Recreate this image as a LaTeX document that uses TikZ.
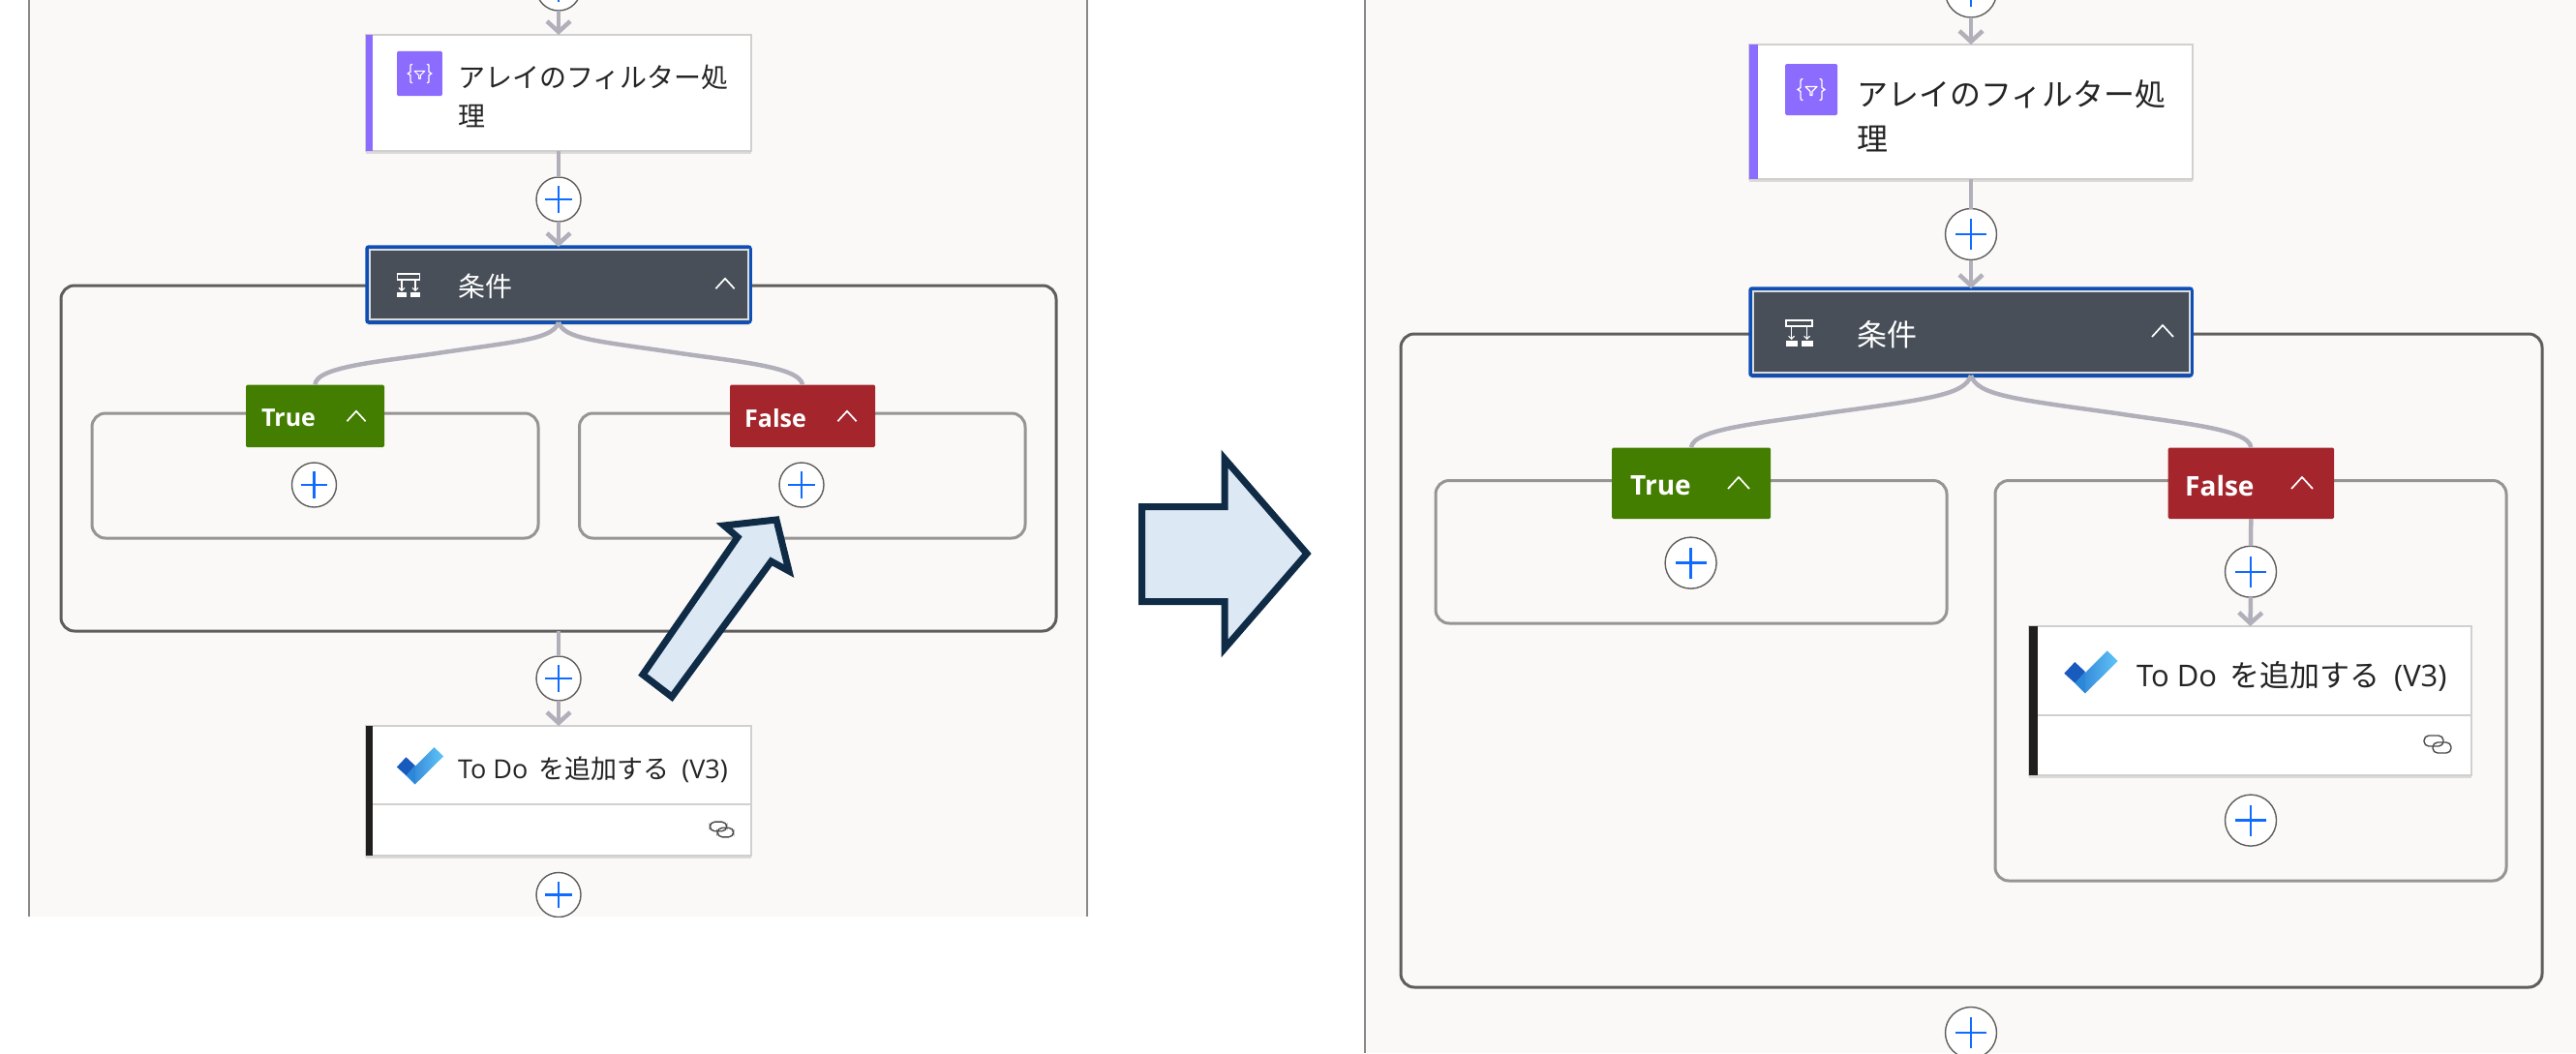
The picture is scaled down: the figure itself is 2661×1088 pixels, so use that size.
\documentclass[tikz,border=0pt]{standalone}
\usepackage{fontspec}
\usetikzlibrary{arrows.meta,shadows,calc}
\newfontfamily\jpfont{Noto Sans CJK JP}
\newfontfamily\labfont{Open Sans}
\definecolor{panelbg}{HTML}{FAF9F8}
\definecolor{panelline}{HTML}{8A8886}
\definecolor{flowgrey}{HTML}{B1B0BA}
\definecolor{outerbox}{HTML}{605E5C}
\definecolor{innerbox}{HTML}{979593}
\definecolor{plusblue}{HTML}{0F6CFF}
\definecolor{filterpurple}{HTML}{8C6CFF}
\definecolor{condfill}{HTML}{484F58}
\definecolor{condblue}{HTML}{0F4FB5}
\definecolor{truegreen}{HTML}{437E00}
\definecolor{falsered}{HTML}{A4262C}
\definecolor{cardedge}{HTML}{D2D0CE}
\definecolor{arrownavy}{HTML}{0F2B46}
\definecolor{arrowfill}{HTML}{DCE9F5}
\definecolor{todobar}{HTML}{201F1E}
\definecolor{inktext}{HTML}{242424}
\definecolor{todolow}{HTML}{2B7CD3}
\definecolor{todohigh}{HTML}{60C5F7}
\definecolor{todomid}{HTML}{2B88D8}
\definecolor{tododark}{HTML}{185ABD}
\tikzset{
  x=1pt,y=-1pt,
  flow/.style={draw=flowgrey,line width=4.5pt},
  tip/.style={-{Straight Barb[length=11pt,width=24pt,line width=4.5pt]}},
  addnode/.style={circle,draw=outerbox,fill=white,line width=1.4pt,inner sep=0,outer sep=0,minimum size=#1,
    path picture={\draw[plusblue,line width=2.4pt] ($(path picture bounding box.center)+(-.3*#1,0)$)--($(path picture bounding box.center)+(.3*#1,0)$);
      \draw[plusblue,line width=2.4pt] ($(path picture bounding box.center)+(0,-.3*#1)$)--($(path picture bounding box.center)+(0,.3*#1)$);}},
  cardbox/.style={rectangle,draw=cardedge,line width=1.2pt,fill=white,anchor=north west,inner sep=0,outer sep=0,
    drop shadow={shadow xshift=0pt,shadow yshift=-3pt,opacity=.25}},
  condbox/.style={rectangle,rounded corners=2pt,draw=condblue,line width=3.5pt,fill=condfill,anchor=north west,inner sep=0,outer sep=0,
    drop shadow={shadow xshift=0pt,shadow yshift=-3pt,opacity=.25}},
  branchbox/.style={rectangle,rounded corners=1.5pt,anchor=north west,inner sep=0,outer sep=0,text=white},
  groupbox/.style={draw=outerbox,line width=3pt,rounded corners=14pt},
  subbox/.style={draw=innerbox,line width=3pt,rounded corners=14pt},
  cardtext/.style={anchor=west,inner sep=0,outer sep=0,text=inktext,align=left},
  bigarrow/.style={draw=arrownavy,fill=arrowfill,line width=7pt,miter limit=10},
  pics/filtericon/.style={code={
    \fill[filterpurple,rounded corners=1.5pt] (-27,-26.5) rectangle (27,26.5);
    \draw[white,line width=1.3pt,line cap=round] (-9,-11) .. controls (-11,-11) and (-11,-10) .. (-11,-8) -- (-11,-2) -- (-14,0) -- (-11,2) -- (-11,8) .. controls (-11,10) and (-11,11) .. (-9,11);
    \draw[white,line width=1.3pt,line cap=round] (9,-11) .. controls (11,-11) and (11,-10) .. (11,-8) -- (11,-2) -- (14,0) -- (11,2) -- (11,8) .. controls (11,10) and (11,11) .. (9,11);
    \draw[white,line width=1.2pt,line join=round] (-6,-3) -- (6,-3) -- (1,2) -- (1,6) -- (-1,6) -- (-1,2) -- cycle;
  }},
  pics/condicon/.style={code={
    \draw[white,line width=1.2pt] (-13.5,-13) rectangle (13.5,-7);
    \draw[white,line width=2pt] (-13.5,-13.5) -- (13.5,-13.5);
    \draw[white,line width=1.1pt,-{Straight Barb[length=3pt,width=6pt]}] (-8,-7) -- (-8,7);
    \draw[white,line width=1.1pt,-{Straight Barb[length=3pt,width=6pt]}] (8,-7) -- (8,7);
    \fill[white] (-14,8) rectangle (-2,14);
    \fill[white] (2,8) rectangle (14,14);
  }},
  pics/todoicon/.style={code={
    \shade[left color=todolow,right color=todohigh] (16.7,-21.7) -- (27.7,-11) -- (-6,22.3) -- (-16.7,11.7) -- cycle;
    \fill[todomid] (-6,0) -- (-6,22.3) -- (-16.7,11.7) -- cycle;
    \fill[tododark] (-27.7,1.7) -- (-16.7,-10) -- (-6,0) -- (-16.7,11.7) -- cycle;
  }},
  pics/linkicon/.style={code={
    \draw[todobar!80,line width=1.4pt,rounded corners=5pt] (-14,-9) rectangle (6,2);
    \draw[todobar!80,line width=1.4pt,rounded corners=5pt] (-5,-2) rectangle (14,9);
  }},
  pics/chevron/.style={code={
    \draw[white,line width=1.7pt] (-11,6) -- (0,-6) -- (11,6);
  }},
}
\begin{document}
\begin{tikzpicture}
\useasboundingbox (0,0) rectangle (2661,1088);
\fill[white] (0,0) rectangle (2661,1088);

% ---------- left panel ----------
\begin{scope}
\clip (0,0) rectangle (1130,947);
\fill[panelbg] (30,0) rectangle (1123,947);
\draw[panelline,line width=2.5pt] (30,0) -- (30,947);
\draw[panelline,line width=2.5pt] (1123,0) -- (1123,947);

\node[addnode=46pt] (la0) at (577,-12) {};
\draw[groupbox] (63,295) rectangle (1091,652);
\node[coordinate] (lgb) at (577,652) {};
\draw[subbox] (95,427) rectangle (556,556);
\draw[subbox] (598.5,427) rectangle (1059,556);

\node[cardbox,minimum width=398pt,minimum height=120pt] (lc1) at (378,36) {};
\fill[filterpurple] (lc1.north west) rectangle ++(7,120);
\pic[scale=.87] at (433.5,76) {filtericon};
\node[cardtext,font=\jpfont\fontsize{28}{40}\selectfont] (lc1t) at (473,99) {アレイのフィルター処\\理};

\node[addnode=46pt] (la1) at (577,206) {};
\node[condbox,minimum width=396pt,minimum height=78pt] (lcond) at (379,255) {};
\draw[white!80!condfill,line width=1.2pt] (382,258) rectangle (773,330);
\pic[scale=.87] at (422,295) {condicon};
\node[anchor=west,inner sep=0,text=white,font=\jpfont\fontsize{28}{34}\selectfont] (lcondt) at (473,296) {条件};
\pic[scale=.87] at (749,293) {chevron};

\node[branchbox,fill=truegreen,minimum width=143pt,minimum height=64.5pt] (lt) at (254,397.5) {};
\node[anchor=west,inner sep=0,text=white,font=\labfont\bfseries\fontsize{25}{30}\selectfont] (ltt) at (270,432) {True};
\pic[scale=.87] at (368,430) {chevron};
\node[branchbox,fill=falsered,minimum width=150pt,minimum height=64.5pt] (lf) at (754,397.5) {};
\node[anchor=west,inner sep=0,text=white,font=\labfont\bfseries\fontsize{25}{30}\selectfont] (lft) at (769,432) {False};
\pic[scale=.87] at (875,430) {chevron};

\node[addnode=46pt] (lpt) at (324.5,501) {};
\node[addnode=46pt] (lpf) at (828,501) {};

\node[addnode=46pt] (la2) at (577,701) {};
\node[cardbox,minimum width=398pt,minimum height=134pt] (lc2) at (378,750) {};
\fill[todobar] (lc2.north west) rectangle ++(7,134);
\draw[cardedge,line width=1.2pt] (385,831) -- (776,831);
\pic[scale=.87] at (434,791) {todoicon};
\node[cardtext,font=\jpfont\fontsize{27}{34}\selectfont] (lc2t) at (473,795) {{\labfont To Do}\hspace{11pt}を追加する\hspace{13pt}{\labfont (V3)}};
\pic[scale=.87] at (745.5,857) {linkicon};
\node[addnode=46pt] (la3) at (577,924.5) {};

\draw[flow,tip] (la0.south) -- (lc1.north);
\draw[flow] (lc1.south) -- (la1.north);
\draw[flow,tip] (la1.south) -- (lcond.north);
\draw[flow] (lcond.south) .. controls (571,350) and (540,352) .. (458,364) .. controls (400,373) and (326,378) .. (lt.north);
\draw[flow] (lcond.south) .. controls (583,350) and (614,352) .. (696,364) .. controls (754,373) and (826,378) .. (lf.north);
\draw[flow] (lgb) -- (la2.north);
\draw[flow,tip] (la2.south) -- (lc2.north);
\end{scope}

% ---------- right panel ----------
\fill[panelbg] (1410,0) rectangle (2661,1088);
\draw[panelline,line width=2.5pt] (1410,0) -- (1410,1088);

\node[addnode=53pt] (ra0) at (2036,-8.5) {};
\draw[groupbox] (1447,345) rectangle (2626,1020);
\node[coordinate] (rgb) at (2036,1020) {};
\draw[subbox] (1483,496.5) rectangle (2011,644);
\draw[subbox] (2061,496.5) rectangle (2589,910);

\node[cardbox,minimum width=458pt,minimum height=139pt] (rc1) at (1807,46) {};
\fill[filterpurple] (rc1.north west) rectangle ++(9,139);
\pic at (1871,92.5) {filtericon};
\node[cardtext,font=\jpfont\fontsize{32}{46}\selectfont] (rc1t) at (1918,120) {アレイのフィルター処\\理};

\node[addnode=53pt] (ra1) at (2036,242) {};
\node[condbox,minimum width=456pt,minimum height=90pt] (rcond) at (1808,298) {};
\draw[white!80!condfill,line width=1.4pt] (1811,301) rectangle (2262,385);
\pic at (1858.5,344) {condicon};
\node[anchor=west,inner sep=0,text=white,font=\jpfont\fontsize{31}{38}\selectfont] (rcondt) at (1918,346) {条件};
\pic at (2234,342) {chevron};

\node[branchbox,fill=truegreen,minimum width=164pt,minimum height=73.5pt] (rt) at (1665,462.5) {};
\node[anchor=west,inner sep=0,text=white,font=\labfont\bfseries\fontsize{28}{34}\selectfont] (rtt) at (1684,502) {True};
\pic at (1796,499) {chevron};
\node[branchbox,fill=falsered,minimum width=171.4pt,minimum height=73.5pt] (rf) at (2239.6,462.5) {};
\node[anchor=west,inner sep=0,text=white,font=\labfont\bfseries\fontsize{28}{34}\selectfont] (rft) at (2257,502) {False};
\pic at (2378,499) {chevron};

\node[addnode=53pt] (rpt) at (1746.6,581.6) {};
\node[addnode=53pt] (rpf) at (2325,590.7) {};
\node[cardbox,minimum width=457pt,minimum height=154pt] (rc2) at (2096,647) {};
\fill[todobar] (rc2.north west) rectangle ++(9,154);
\draw[cardedge,line width=1.2pt] (2105,739) -- (2553,739);
\pic at (2160,694) {todoicon};
\node[cardtext,font=\jpfont\fontsize{31}{38}\selectfont] (rc2t) at (2207,699) {{\labfont To Do}\hspace{13pt}を追加する\hspace{15pt}{\labfont (V3)}};
\pic at (2518,769) {linkicon};
\node[addnode=53pt] (rpf2) at (2325,847.6) {};
\node[addnode=53pt] (ra2) at (2036,1067) {};

\draw[flow,tip] (ra0.south) -- (rc1.north);
\draw[flow] (rc1.south) -- (ra1.north);
\draw[flow,tip] (ra1.south) -- (rcond.north);
\draw[flow] (rcond.south) .. controls (2029,408) and (1995,412) .. (1886,427) .. controls (1822,437) and (1748,443) .. (rt.north);
\draw[flow] (rcond.south) .. controls (2043,408) and (2077,412) .. (2186,427) .. controls (2250,437) and (2324,443) .. (rf.north);
\draw[flow] (rf.south) -- (rpf.north);
\draw[flow,tip] (rpf.south) -- (rc2.north);

% ---------- call-out arrows ----------
\draw[bigarrow] (1179.5,523.5) -- (1265,523.5) -- (1265,474) -- (1350,572) -- (1265,670) -- (1265,621.7) -- (1179.5,621.7) -- cycle;
\draw[bigarrow] (802,537) -- (815,590) -- (796.7,580) -- (694,720) -- (664,697) -- (762,555) -- (748,543) -- cycle;
\end{tikzpicture}
\end{document}
